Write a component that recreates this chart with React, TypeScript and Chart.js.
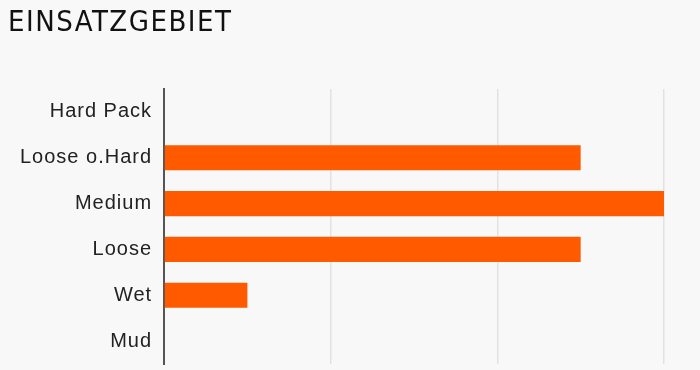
import React, { useEffect, useRef } from "react";
import { Chart, registerables } from "chart.js";

Chart.register(...registerables);

const TITLE = "EINSATZGEBIET";
const categories = ["Hard Pack", "Loose o.Hard", "Medium", "Loose", "Wet", "Mud"];
const values = [0, 2.5, 3, 2.5, 0.5, 0];
const X_MIN = 0;
const X_MAX = 3;

const spacingPlugin = {
  id: "spacing",
  beforeInit(chart: any) {
    chart.ctx.letterSpacing = "1px";
  },
  beforeDraw(chart: any) {
    chart.ctx.letterSpacing = "1px";
  },
};

export default function App() {
  const ref = useRef<HTMLCanvasElement>(null);
  useEffect(() => {
    document.body.style.margin = "0";
    document.body.style.background = "#f8f8f8";
    const chart = new Chart(ref.current!, {
      type: "bar",
      data: {
        labels: categories,
        datasets: [
          {
            data: values,
            backgroundColor: "#ff5a00",
            borderWidth: 0,
            barPercentage: 0.55,
            categoryPercentage: 1,
          },
        ],
      },
      options: {
        indexAxis: "y",
        animation: false,
        responsive: false,
        maintainAspectRatio: false,
        layout: { padding: { left: 20, top: 89, right: 36, bottom: 6 } },
        plugins: { legend: { display: false }, tooltip: { enabled: false }, title: { display: false } },
        scales: {
          x: {
            min: X_MIN,
            max: X_MAX,
            ticks: { display: false, stepSize: 1 },
            grid: { color: "#e2e2e2", lineWidth: 1.5, drawTicks: false },
            border: { display: false },
            afterFit(scale: any) {
              scale.height = 0;
            },
          },
          y: {
            grid: { display: false, drawTicks: false },
            border: { display: true, color: "#555555", width: 2 },
            ticks: {
              color: "#222222",
              padding: 12,
              font: { family: "'Liberation Sans', Arial, sans-serif", size: 20 },
            },
            afterFit(scale: any) {
              scale.paddingTop = 0;
              scale.paddingBottom = 0;
            },
          },
        },
      },
      plugins: [spacingPlugin],
    });
    return () => chart.destroy();
  }, []);
  return (
    <div style={{ position: "relative", width: 700, height: 370, background: "#f8f8f8" }}>
      <div
        style={{
          position: "absolute",
          left: 8,
          top: 4,
          fontFamily: "'DejaVu Sans Condensed', 'DejaVu Sans', sans-serif",
          fontSize: 29,
          lineHeight: "34px",
          letterSpacing: "1.5px",
          color: "#111111",
          fontWeight: 300,
        }}
      >
        {TITLE}
      </div>
      <canvas ref={ref} width={700} height={370} style={{ display: "block" }} />
    </div>
  );
}
